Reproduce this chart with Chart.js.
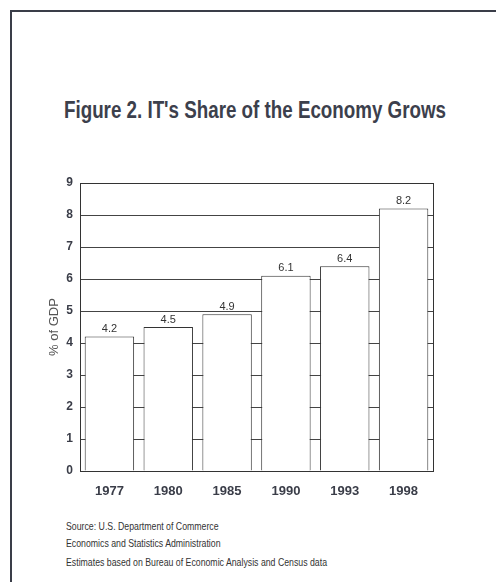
<!DOCTYPE html>
<html>
<head>
<meta charset="utf-8">
<script src="https://cdn.jsdelivr.net/npm/chart.js@4.4.1/dist/chart.umd.min.js"></script>
<style>
  html, body { margin: 0; padding: 0; background: #ffffff; }
  body { width: 496px; height: 582px; position: relative; overflow: hidden; }
  #frame { position: absolute; left: 10px; top: 10px; width: 600px; height: 700px;
           border-left: 2px solid #3a3d48; border-top: 2px solid #3a3d48; box-sizing: border-box; }
  #title { position: absolute; left: 64px; top: 97px; font-family: "Liberation Sans", Arial, sans-serif;
           font-weight: bold; font-size: 23px; color: #3c404c; white-space: nowrap; transform-origin: 0 0; }
  #chartBox { position: absolute; left: 0; top: 160px; width: 496px; height: 345px; }
  .src { position: absolute; left: 66px; font-family: "Liberation Sans", Arial, sans-serif;
         font-size: 11px; color: #333; white-space: nowrap; transform-origin: 0 0; }
</style>
</head>
<body>
<div id="frame"></div>
<div id="title">Figure 2. IT's Share of the Economy Grows</div>
<div id="chartBox"><canvas id="c"></canvas></div>
<div class="src" id="s1" style="top:520px">Source: U.S. Department of Commerce</div>
<div class="src" id="s2" style="top:537px">Economics and Statistics Administration</div>
<div class="src" id="s3" style="top:556px">Estimates based on Bureau of Economic Analysis and Census data</div>
<script>
const years = ["1977", "1980", "1985", "1990", "1993", "1998"];
const shareOfGDP = [4.2, 4.5, 4.9, 6.1, 6.4, 8.2];
const yTicks = [0, 1, 2, 3, 4, 5, 6, 7, 8, 9];
const yAxisTitle = "% of GDP";

// condense text horizontally to match the narrow typeface of the original
function fitWidth(id, target) {
  const el = document.getElementById(id);
  const w = el.getBoundingClientRect().width;
  el.style.transform = 'scaleX(' + (target / w) + ')';
}
fitWidth('title', 382);
const srcScale = 261 / document.getElementById('s3').getBoundingClientRect().width;
['s1', 's2', 's3'].forEach(id => { document.getElementById(id).style.transform = 'scaleX(' + srcScale + ')'; });

const FONT = '"Liberation Sans", Arial, sans-serif';

const valueLabels = {
  id: 'valueLabels',
  afterDatasetsDraw(chart) {
    const ctx = chart.ctx;
    const meta = chart.getDatasetMeta(0);
    ctx.save();
    ctx.font = '11px ' + FONT;
    ctx.fillStyle = '#333';
    ctx.textAlign = 'center';
    ctx.textBaseline = 'bottom';
    meta.data.forEach((bar, i) => {
      ctx.fillText(shareOfGDP[i].toFixed(1), bar.x, bar.y - 2);
    });
    ctx.restore();
  }
};

const plotFrame = {
  id: 'plotFrame',
  afterDatasetsDraw(chart) {
    const a = chart.chartArea, ctx = chart.ctx;
    ctx.save();
    ctx.strokeStyle = '#333';
    ctx.lineWidth = 1;
    ctx.strokeRect(Math.round(a.left) + 0.5, Math.round(a.top) + 0.5, Math.round(a.right - a.left), Math.round(a.bottom - a.top));
    ctx.restore();
  }
};

new Chart(document.getElementById('c'), {
  type: 'bar',
  data: {
    labels: years,
    datasets: [{
      data: shareOfGDP,
      backgroundColor: '#ffffff',
      borderColor: '#333',
      borderWidth: 1,
      barPercentage: 0.84,
      categoryPercentage: 1.0
    }]
  },
  options: {
    responsive: true,
    maintainAspectRatio: false,
    animation: false,
    devicePixelRatio: 1,
    layout: { padding: { top: 23, right: 63, left: 0, bottom: 0 } },
    plugins: { legend: { display: false }, tooltip: { enabled: false } },
    scales: {
      x: {
        grid: { display: false, drawTicks: false },
        border: { display: true, color: '#333' },
        ticks: { color: '#3a3d48', font: { family: FONT, size: 13, weight: 'bold' }, padding: 13 },
        afterFit(s) { s.height = 34; }
      },
      y: {
        min: 0, max: 9,
        afterBuildTicks(s) { s.ticks = yTicks.map(v => ({ value: v })); },
        grid: { color: '#444', drawTicks: false },
        border: { display: true, color: '#333' },
        ticks: { color: '#3a3d48', font: { family: FONT, size: 12, weight: 'bold' }, padding: 7 },
        title: { display: true, text: yAxisTitle, color: '#555', font: { family: FONT, size: 13 }, padding: { top: 47, bottom: 0 } },
        afterFit(s) { s.width = 80; }
      }
    }
  },
  plugins: [valueLabels, plotFrame]
});
</script>
</body>
</html>
